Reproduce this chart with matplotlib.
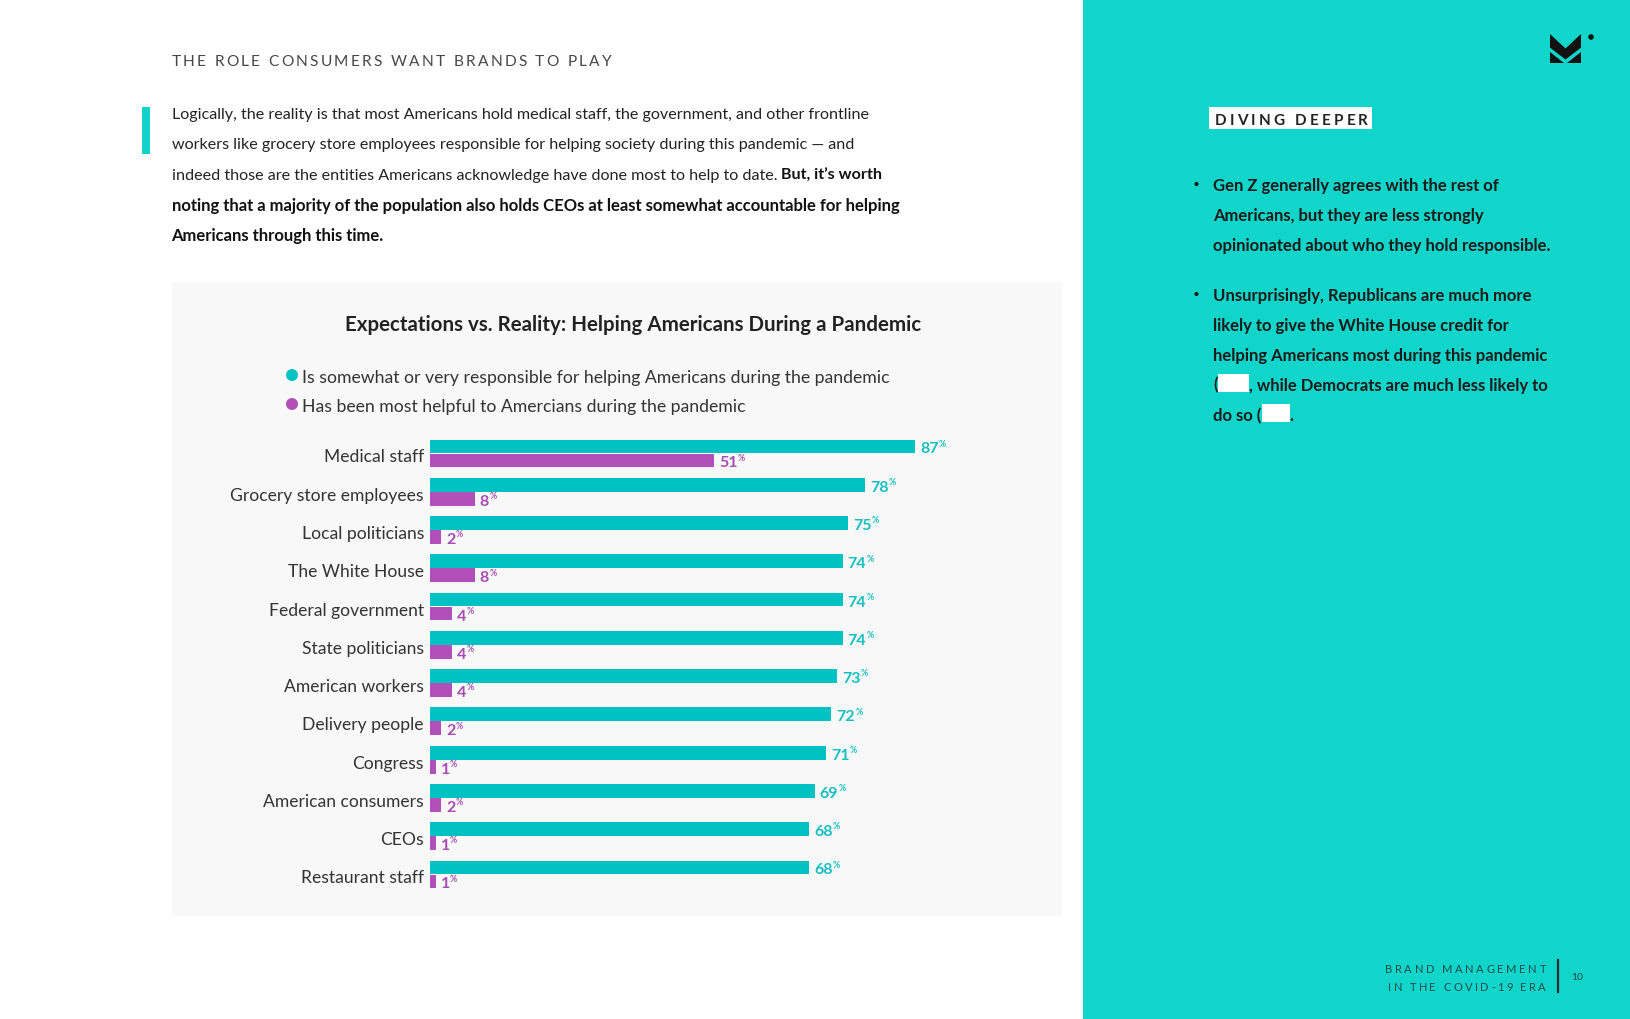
import matplotlib
matplotlib.use("Agg")
import matplotlib.pyplot as plt
from matplotlib.patches import Rectangle, Polygon, Circle
from matplotlib.font_manager import FontProperties, findfont, get_font

# ---------------- data ----------------
categories = ["Medical staff", "Grocery store employees", "Local politicians", "The White House",
              "Federal government", "State politicians", "American workers", "Delivery people",
              "Congress", "American consumers", "CEOs", "Restaurant staff"]
responsible = [87, 78, 75, 74, 74, 74, 73, 72, 71, 69, 68, 68]
most_helpful = [51, 8, 2, 8, 4, 4, 4, 2, 1, 2, 1, 1]
series_labels = ["Is somewhat or very responsible for helping Americans during the pandemic",
                 "Has been most helpful to Amercians during the pandemic"]
chart_title = "Expectations vs. Reality: Helping Americans During a Pandemic"
header = "THE ROLE CONSUMERS WANT BRANDS TO PLAY"
para_normal = ["Logically, the reality is that most Americans hold medical staff, the government, and other frontline",
               "workers like grocery store employees responsible for helping society during this pandemic \u2014 and",
               "indeed those are the entities Americans acknowledge have done most to help to date."]
para_bold = ["But, it\u2019s worth",
             "noting that a majority of the population also holds CEOs at least somewhat accountable for helping",
             "Americans through this time."]
side_title = "DIVING DEEPER"
bullet1 = ["Gen Z generally agrees with the rest of",
           "Americans, but they are less strongly",
           "opinionated about who they hold responsible."]
bullet2 = ["Unsurprisingly, Republicans are much more",
           "likely to give the White House credit for",
           "helping Americans most during this pandemic"]
footer = ["BRAND MANAGEMENT", "IN THE COVID-19 ERA"]
page_no = "10"

TEAL_BAR = "#00c2c2"
PURPLE_BAR = "#b050b8"
TEAL_TXT = "#17bfc0"
PURPLE_TXT = "#a64db3"
PANEL = "#10d5ca"
FAM = "Lato"

W, H, DPI = 1630, 1020, 100
DY = 2.0  # small downward nudge for centred text


def text_width(s, size, weight="normal", family=FAM):
    prop = FontProperties(family=family, weight=weight)
    f = get_font(findfont(prop))
    f.clear()
    f.set_size(size, DPI)
    f.set_text(s, 0.0)
    w, _ = f.get_width_height()
    return w / 64.0


def fit_size(s, target, weight="normal", family=FAM):
    return 10.0 * target / text_width(s, 10.0, weight, family)


def char_adv(s, size, weight="normal", family=FAM):
    prop = FontProperties(family=family, weight=weight)
    f = get_font(findfont(prop))
    f.clear()
    f.set_size(size, DPI)
    out = []
    for c in s:
        g = f.load_char(ord(c))
        out.append(g.linearHoriAdvance / 65536.0)
    return out


fig = plt.figure(figsize=(W / DPI, H / DPI), dpi=DPI)
fig.patch.set_facecolor("white")
bg = fig.add_axes([0, 0, 1, 1])
bg.set_xlim(0, W)
bg.set_ylim(H, 0)
bg.axis("off")


def spaced(x, y, s, size, target, color, weight="normal", align="left"):
    adv = char_adv(s, size, weight)
    track = (target - sum(adv)) / (len(s) - 1)
    cx = x if align == "left" else x - target
    for c, a in zip(s, adv):
        if c != " ":
            bg.text(cx, y, c, fontsize=size, color=color, fontweight=weight, family=FAM,
                    ha="left", va="baseline")
        cx += a + track


def txt(x, y, s, size, color, weight="normal", ha="left"):
    return bg.text(x, y + DY, s, fontsize=size, color=color, family=FAM, fontweight=weight,
                   ha=ha, va="center")


# ---------------- backgrounds ----------------
bg.add_patch(Rectangle((1083, 0), W - 1083, H, color=PANEL, lw=0))
bg.add_patch(Rectangle((171.5, 283), 890.5, 634, color="#f8f8f8", lw=0))
bg.add_patch(Rectangle((141.5, 108), 8.5, 47, color="#12d3c9", lw=0))

# ---------------- header + paragraph ----------------
spaced(171.5, 66.5, header, 11.2, 440, "#474747", weight="normal")

p_size = fit_size(para_normal[0], 698, "normal")
ys = [113, 143.5, 173.6, 203.7, 233.9]
for i, line in enumerate(para_normal):
    txt(171.5, ys[i], line, p_size, "#222222")
x_b = 171.5 + text_width(para_normal[2], p_size) + text_width("a a", p_size) - text_width("aa", p_size)
txt(x_b, ys[2], para_bold[0], p_size, "#111111", weight="bold")
b_size = fit_size(para_bold[1], 734, "bold")
for i, line in enumerate(para_bold[1:]):
    txt(171.5, ys[3 + i], line, b_size, "#111111", weight="bold")

# ---------------- chart title + legend ----------------
t_size = fit_size(chart_title, 577, "bold")
txt(633.5, 323, chart_title, t_size, "#222222", weight="bold", ha="center")
l_size = fit_size(series_labels[0], 588, "normal")
for (yy, col, lab) in [(376, TEAL_BAR, series_labels[0]), (405, PURPLE_BAR, series_labels[1])]:
    bg.add_patch(Circle((292, yy), 6, color=col, lw=0))
    txt(302, yy, lab, l_size, "#333333")

# ---------------- bars ----------------
px_per_unit = 5.575
row_h = 38.27
top = 454.5 - row_h / 2
bottom = 454.5 + 11 * row_h + row_h / 2
ax = fig.add_axes([430 / W, 1 - bottom / H, 100 * px_per_unit / W, (bottom - top) / H])
ax.set_facecolor("none")
ax.set_xlim(0, 100)
ax.set_ylim(len(categories) - 0.5, -0.5)
for s in ax.spines.values():
    s.set_visible(False)
ax.set_xticks([])

off = 7 / row_h
bh = 13.8 / row_h
ypos = list(range(len(categories)))
ax.barh([y - off for y in ypos], responsible, height=bh, color=TEAL_BAR, lw=0)
ax.barh([y + off for y in ypos], most_helpful, height=bh, color=PURPLE_BAR, lw=0)

c_size = fit_size("Grocery store employees", 194, "normal")
ax.set_yticks(ypos)
ax.set_yticklabels(categories, fontsize=c_size, color="#333333", family=FAM)
ax.tick_params(axis="y", length=0, pad=6 * 0.72)
for lab in ax.get_yticklabels():
    lab.set_y(lab.get_position()[1])
ax.yaxis.set_tick_params(which="major")
import matplotlib.transforms as mtransforms
for lab in ax.get_yticklabels():
    lab.set_transform(lab.get_transform() + mtransforms.ScaledTranslation(0, -1.5 / DPI, fig.dpi_scale_trans))

v_size = 11.5
k = 72 / DPI
for vals, dy, col in [(responsible, -off, TEAL_TXT), (most_helpful, off, PURPLE_TXT)]:
    for y, v in zip(ypos, vals):
        s = str(v)
        ax.annotate(s, xy=(v, y + dy), xytext=(5 * k, -2.0 * k), textcoords="offset points",
                    fontsize=v_size, fontweight="bold", color=col, family=FAM,
                    ha="left", va="center")
        wpx = text_width(s, v_size, "bold")
        ax.annotate("%", xy=(v, y + dy), xytext=((5 + wpx + 0.3) * k, 3.2 * k), textcoords="offset points",
                    fontsize=6.3, fontweight="bold", color=col, family=FAM,
                    ha="left", va="center")

# ---------------- right panel ----------------
# logo
lx, ly, lw_, lh_ = 1550, 35, 31, 29
def lp(pts):
    return [(lx + u * lw_, ly + v * lh_) for u, v in pts]
bg.add_patch(Polygon(lp([(0, 0), (0.5, 0.5), (1, 0), (1, 0.47), (0.5, 0.88), (0, 0.47)]), color="#111111", lw=0))
bg.add_patch(Polygon(lp([(0, 0.63), (0, 1), (0.45, 1)]), color="#111111", lw=0))
bg.add_patch(Polygon(lp([(1, 0.63), (1, 1), (0.55, 1)]), color="#111111", lw=0))
bg.add_patch(Circle((1591, 38), 2.8, color="#111111", lw=0))

bg.add_patch(Rectangle((1209, 108), 163, 22, color="white", lw=0))
spaced(1215, 125, side_title, 11, 153, "#222222", weight="bold")

r_size = fit_size(bullet1[0], 288, "bold")
RC = "#1b1b1b"
for i, line in enumerate(bullet1):
    txt(1213, [184, 214, 244][i], line, r_size, RC, weight="bold")
b2y = [294, 324, 354.5, 383.6, 413.7]
for i, line in enumerate(bullet2):
    txt(1213, b2y[i], line, r_size, RC, weight="bold")
for yy in (184, 294):
    bg.add_patch(Circle((1196.5, yy + 1), 2.1, color=RC, lw=0))

# line 4: "(" [box] ", while Democrats ..."
txt(1213, b2y[3], "(", r_size, RC, weight="bold")
x1 = 1213 + text_width("(", r_size, "bold") + 0.5
bg.add_patch(Rectangle((x1, 375), 31, 18, color="white", lw=0))
txt(x1 + 31, b2y[3], ", while Democrats are much less likely to", r_size, RC, weight="bold")
txt(1213, b2y[4], "do so (", r_size, RC, weight="bold")
x2 = 1213 + text_width("do so (", r_size, "bold") + 0.5
bg.add_patch(Rectangle((x2, 405), 28, 18, color="white", lw=0))
txt(x2 + 28, b2y[4], ".", r_size, RC, weight="bold")

# footer
FC = "#1f4b4c"
spaced(1546, 973.3, footer[0], 8, 161, FC, align="right")
spaced(1546, 991, footer[1], 8, 158, FC, align="right")
bg.plot([1558, 1558], [961, 993], color="#1e2e2e", lw=1.6)
bg.text(1577, 978, page_no, fontsize=7.5, color=FC, family=FAM, ha="center", va="center")

fig.savefig("out.png", dpi=DPI, facecolor="white")
